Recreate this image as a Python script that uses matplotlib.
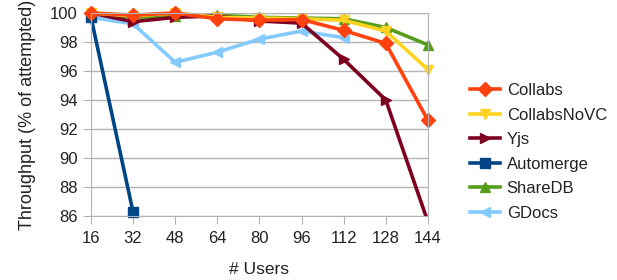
import matplotlib.pyplot as plt

plt.rcParams['font.family'] = ['Liberation Sans', 'DejaVu Sans']

users = [16, 32, 48, 64, 80, 96, 112, 128, 144]

collabs = [100.0, 99.85, 100.0, 99.6, 99.5, 99.55, 98.8, 97.9, 92.6]
collabs_novc = [100.0, 99.8, 100.0, 99.7, 99.65, 99.6, 99.5, 98.75, 96.1]
yjs = [100.0, 99.4, 99.7, 99.8, 99.45, 99.3, 96.8, 94.0, 85.6]
automerge = [99.7, 86.25]
sharedb = [100.0, 99.7, 99.8, 99.85, 99.7, 99.65, 99.6, 99.0, 97.8]
gdocs = [99.7, 99.25, 96.6, 97.3, 98.2, 98.75, 98.3]

series = [
    ('Collabs', users, collabs, '#ff420e', 'D'),
    ('CollabsNoVC', users, collabs_novc, '#ffd320', 'v'),
    ('Yjs', users, yjs, '#7e0021', '>'),
    ('Automerge', users[:len(automerge)], automerge, '#004586', 's'),
    ('ShareDB', users, sharedb, '#579d1c', '^'),
    ('GDocs', users[:len(gdocs)], gdocs, '#83caff', '<'),
]

fig = plt.figure(figsize=(6.17, 2.8), dpi=100)
ax = fig.add_axes([0.1475, 0.2286, 0.546, 0.725])

# draw in reverse so Collabs ends up on top
lines = {}
for name, xs, ys, color, marker in reversed(series):
    ln, = ax.plot(xs, ys, color=color, marker=marker, linewidth=2.6,
                  markersize=7, label=name, clip_on=(name == 'Yjs'))
    lines[name] = ln

ax.set_xlim(16, 144)
ax.set_ylim(86, 100)
ax.set_xticks(users)
ax.set_yticks(range(86, 101, 2))
ax.tick_params(axis='both', labelsize=12, color='#b3b3b3', length=5.5,
               labelcolor='#222222')
ax.tick_params(axis='y', pad=4)
ax.tick_params(axis='x', pad=5)
ax.grid(True, axis='y', color='#b3b3b3', linewidth=1)
for s in ax.spines.values():
    s.set_color('#b3b3b3')

ax.set_xlabel('# Users', fontsize=12.5, labelpad=12, color='#222222')
ax.set_ylabel('Throughput (% of attempted)', fontsize=13, labelpad=10,
              color='#222222')

names = [s[0] for s in series]
ax.legend([lines[n] for n in names], names, loc='center left',
          bbox_to_anchor=(1.125, 0.315), frameon=False, fontsize=12,
          borderaxespad=0, borderpad=0, labelcolor='#222222',
          handlelength=1.8, handletextpad=0.4, labelspacing=0.57)

fig.savefig('out.png', dpi=100)
